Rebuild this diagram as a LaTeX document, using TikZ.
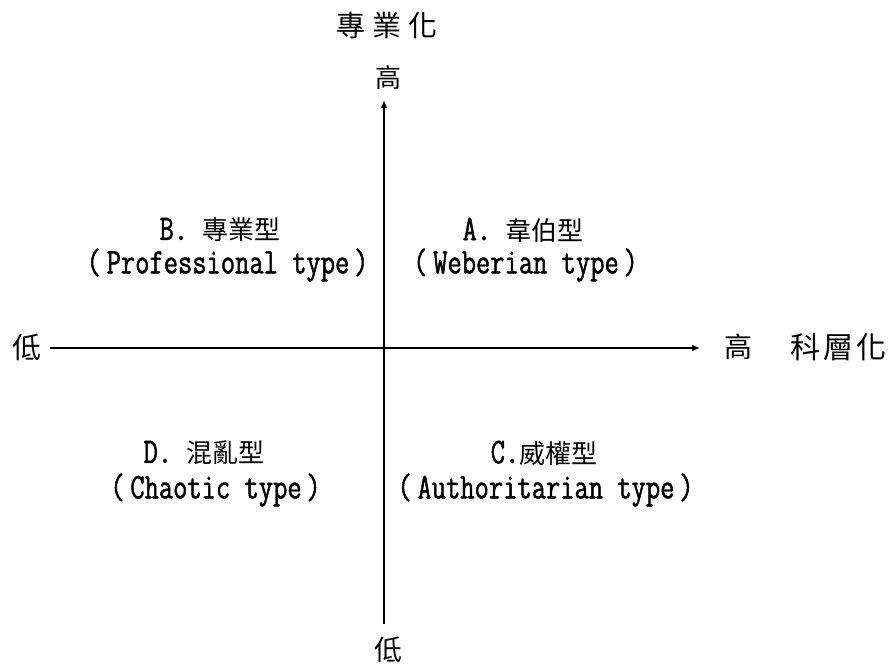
\documentclass[tikz,border=0pt]{standalone}
\usepackage{fontspec}
\setmainfont{Latin Modern Mono}[FakeStretch=0.77,FakeBold=1.3]
\newfontfamily\cjkfont{Noto Sans CJK TC}
\usetikzlibrary{arrows.meta}
\newcommand\zh[1]{{\cjkfont\fontsize{26}{28}\selectfont #1}}
\newcommand\lp{\makebox[26pt][c]{(}}
\newcommand\rp{\makebox[24pt][c]{)}}
\begin{document}
\begin{tikzpicture}[x=1pt,y=-1pt,
  lbl/.style={inner sep=0pt, anchor=center, font=\fontsize{36}{38}\selectfont},
  axis/.style={line width=1.6pt},
  tipstyle/.style={-{Latex[length=8pt,width=7pt]}}]
\useasboundingbox (0,0) rectangle (893,665);
% axis end labels
\node[lbl] (ytitle) at (387,25) {\zh{\fontsize{29}{30}\selectfont 專\hspace{7pt}業\hspace{7pt}化}};
\node[lbl] (yhigh) at (388,78) {\zh{高}};
\node[lbl] (ylow) at (388,650) {\zh{\fontsize{28}{30}\selectfont 低}};
\node[lbl] (xlow) at (27,347) {\zh{\fontsize{29}{30}\selectfont 低}};
\node[lbl] (xhigh) at (738,347) {\zh{\fontsize{28}{30}\selectfont 高}};
\node[lbl] (xtitle) at (838,347) {\zh{\fontsize{30}{30}\selectfont 科\hspace{3pt}層\hspace{3pt}化}};
% axes
\coordinate (ytop) at (384,100);
\coordinate (ybot) at (384,624);
\coordinate (xleft) at (50,348);
\coordinate (xright) at (700,348);
\draw[axis,tipstyle] (ybot) -- (ytop);
\draw[axis,tipstyle] (xleft) -- (xright);
% quadrants
\node[lbl] (bA) at (220,230) {B.\ \zh{專業型}};
\node[lbl] (bB) at (227,265) {\lp Professional type\rp};
\node[lbl] (aA) at (523,230) {A.\ \zh{韋伯型}};
\node[lbl] (aB) at (525,265) {\lp Weberian type\rp};
\node[lbl] (dA) at (204,453) {D.\ \zh{混亂型}};
\node[lbl] (dB) at (215,490) {\lp Chaotic type\rp};
\node[lbl] (cA) at (544,453) {C.\zh{威權型}};
\node[lbl] (cB) at (545,490) {\lp Authoritarian type\rp};
\end{tikzpicture}
\end{document}
